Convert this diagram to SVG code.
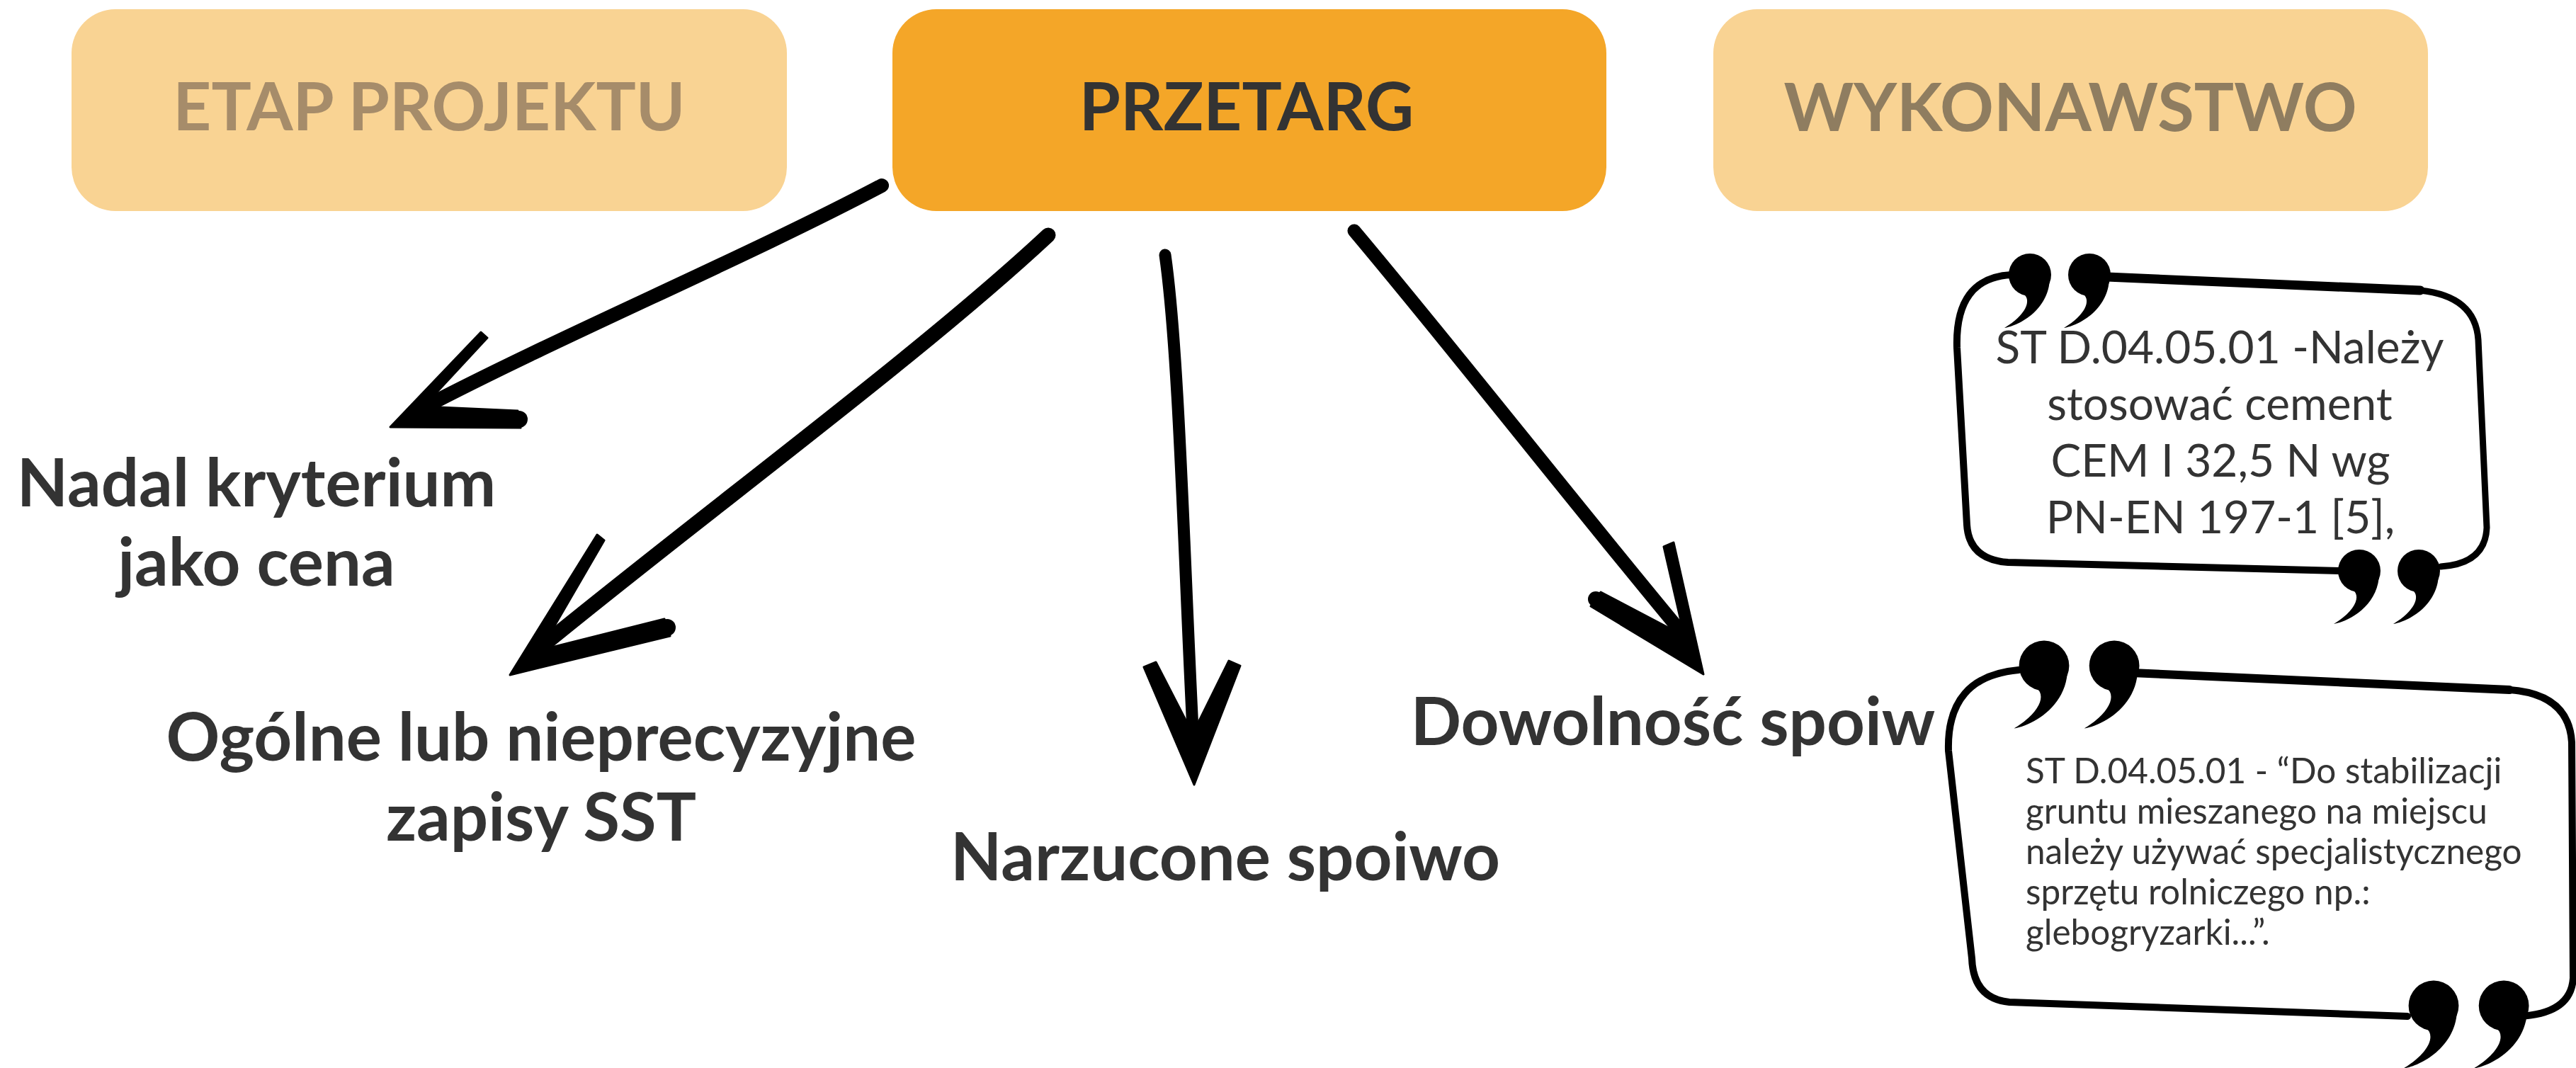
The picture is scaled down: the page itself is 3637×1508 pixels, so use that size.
<svg xmlns="http://www.w3.org/2000/svg" width="3637" height="1508" viewBox="0 0 3637 1508">
  <style>
    .box-light { fill: #F9D393; }
    .box-main { fill: #F4A628; }
    .hdr { font-family: Lato, "Liberation Sans", sans-serif; font-weight: 700; font-size: 94px; text-anchor: middle; }
    .lbl { font-family: Lato, "Liberation Sans", sans-serif; font-weight: 700; font-size: 94px; fill: #333333; text-anchor: middle; }
    .q1 { font-family: Lato, "Liberation Sans", sans-serif; font-weight: 400; font-size: 64px; fill: #333333; text-anchor: middle; }
    .q2 { font-family: Lato, "Liberation Sans", sans-serif; font-weight: 400; font-size: 49.5px; fill: #333333; }
    .shaft { fill: none; stroke: #000; stroke-linecap: round; stroke-linejoin: round; }
    .head { fill: #000; stroke: #000; stroke-width: 3; stroke-linejoin: round; }
    .frame { fill: none; stroke: #000; stroke-linecap: round; stroke-linejoin: round; }
  </style>
  <defs>
    <g id="comma">
      <circle cx="0" cy="0" r="30"/>
      <path d="M28,0 C30,48 -15,72 -36,75 C-6,57 3,36 -9,27 Z"/>
    </g>
    <g id="quote">
      <use href="#comma"/>
      <use href="#comma" x="84"/>
    </g>
  </defs>
  <rect width="3637" height="1508" fill="#ffffff"/>

  <g id="node-etap">
    <rect class="box-light" x="101" y="13" width="1010" height="285" rx="62" ry="62"/>
    <text class="hdr" x="606" y="184" fill="#A68C6A">ETAP PROJEKTU</text>
  </g>
  <g id="node-przetarg">
    <rect class="box-main" x="1260" y="13" width="1008" height="285" rx="62" ry="62"/>
    <text class="hdr" x="1760" y="184" fill="#333333">PRZETARG</text>
  </g>
  <g id="node-wykonawstwo">
    <rect class="box-light" x="2419" y="13" width="1009" height="285" rx="62" ry="62"/>
    <text class="hdr" x="2923" y="185" fill="#8F7D60">WYKONAWSTWO</text>
  </g>

  <g id="connectors">
    <!-- arrow 1 -->
    <path class="shaft" stroke-width="20" d="M1245,262 C1050,365 800,470 595,577"/>
    <path class="head" d="M551,603 L679,469 L688,477 L598,574 L731,580 L735,604 Z"/>
    <circle cx="733" cy="592" r="12"/>
    <!-- arrow 2 -->
    <path class="shaft" stroke-width="21" d="M1480,332 C1300,500 1000,720 762,915"/>
    <path class="head" d="M720,953 L843,755 L853,763 L763,918 L938,874 L946,898 Z"/>
    <circle cx="942" cy="886" r="12"/>
    <!-- arrow 3 -->
    <path class="shaft" stroke-width="17" d="M1645,360 C1665,500 1672,800 1685,1050"/>
    <path class="head" d="M1686,1108 L1615,942 L1632,935 L1684,1036 L1735,933 L1751,940 Z"/>
    <!-- arrow 4 -->
    <path class="shaft" stroke-width="19" d="M1912,326 C2050,490 2230,720 2380,900"/>
    <path class="head" d="M2405,952 L2246,856 L2260,836 L2378,898 L2349,772 L2363,766 Z"/>
    <circle cx="2253" cy="846" r="11"/>
  </g>

  <g id="label-nadal">
    <text class="lbl" x="362" y="715">Nadal kryterium</text>
    <text class="lbl" x="362" y="827">jako cena</text>
  </g>
  <g id="label-ogolne">
    <text class="lbl" x="764" y="1074">Ogólne lub nieprecyzyjne</text>
    <text class="lbl" x="764" y="1187">zapisy SST</text>
  </g>
  <g id="label-narzucone">
    <text class="lbl" x="1730" y="1243">Narzucone spoiwo</text>
  </g>
  <g id="label-dowolnosc">
    <text class="lbl" x="2362" y="1052">Dowolność spoiw</text>
  </g>

  <g id="quote-1">
    <path class="frame" stroke-width="13" d="M2975,391 L3417,410"/>
    <path class="frame" stroke-width="9" d="M3417,410 Q3495,418 3499,480 L3511,745 Q3509,796 3446,800"/>
    <path class="frame" stroke-width="10" d="M3303,806 L2835,794 Q2780,790 2777,741 L2763,491 Q2760,392 2840,388"/>
    <use href="#quote" x="2866" y="388"/>
    <use href="#quote" x="3331" y="806"/>
    <text class="q1" x="3134" y="513">ST D.04.05.01 -Należy</text>
    <text class="q1" x="3134" y="593">stosować cement</text>
    <text class="q1" x="3135" y="673">CEM I 32,5 N wg</text>
    <text class="q1" x="3135" y="753">PN-EN 197-1 [5],</text>
  </g>

  <g id="quote-2">
    <path class="frame" stroke-width="12" d="M3010,950 L3543,974"/>
    <path class="frame" stroke-width="10" d="M3543,974 Q3627,980 3631,1048 L3633,1381 Q3630,1432 3555,1435"/>
    <path class="frame" stroke-width="10" d="M3399,1435 L2837,1415 Q2786,1410 2784,1353 L2751,1060 Q2748,955 2850,946"/>
    <use href="#quote" transform="translate(2886,940) scale(1.18)"/>
    <use href="#quote" transform="translate(3436,1420) scale(1.18)"/>
    <text class="q2" x="2860" y="1106">ST D.04.05.01 - “Do stabilizacji</text>
    <text class="q2" x="2860" y="1163">gruntu mieszanego na miejscu</text>
    <text class="q2" x="2860" y="1220">należy używać specjalistycznego</text>
    <text class="q2" x="2860" y="1277">sprzętu rolniczego np.:</text>
    <text class="q2" x="2860" y="1334">glebogryzarki...”.</text>
  </g>
</svg>
